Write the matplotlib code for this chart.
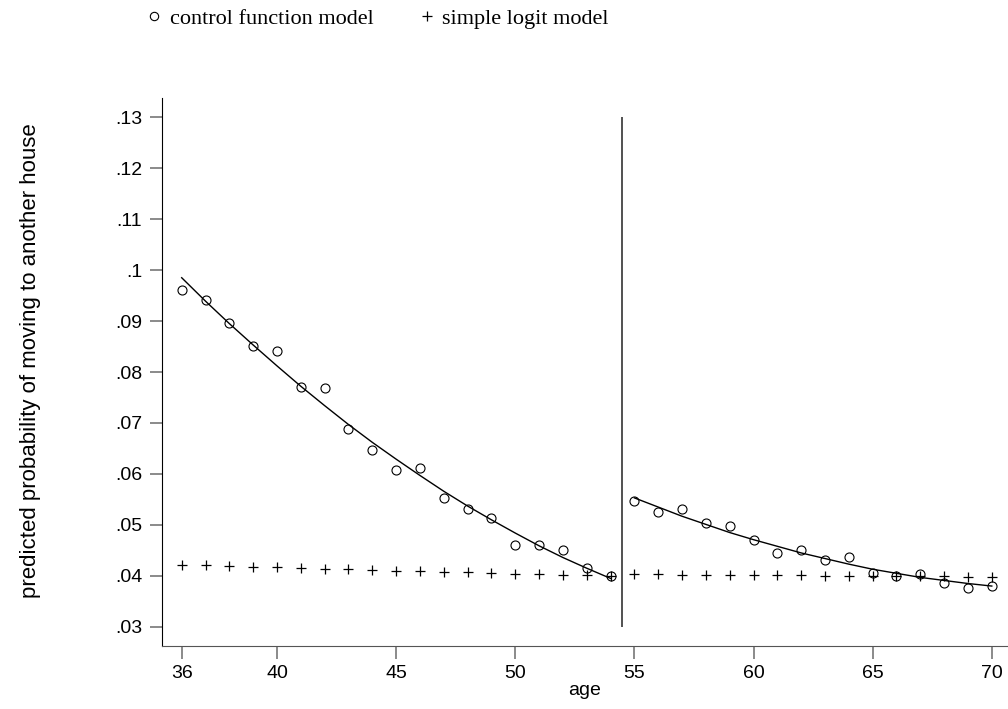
import numpy as np
import matplotlib
matplotlib.use("Agg")
import matplotlib.pyplot as plt
from matplotlib.lines import Line2D

# predicted probabilities, one value per age
ages_left = list(range(36, 55))
ages_right = list(range(55, 71))

cf_left = [.0960, .0941, .0896, .0851, .0841, .0770, .0768, .0688, .0646, .0607,
           .0611, .0553, .0532, .0513, .0461, .0461, .0451, .0415, .0400]
cf_right = [.0547, .0526, .0532, .0503, .0498, .0470, .0444, .0451, .0432, .0438,
            .0405, .0399, .0403, .0386, .0377, .0381]

logit_left = [.0422, .0421, .0419, .0418, .0417, .0416, .0414, .0413, .0412, .0410,
              .0409, .0408, .0407, .0405, .0404, .0403, .0402, .0401, .0400]
logit_right = [.0403, .0403, .0402, .0402, .0402, .0401, .0401, .0401, .0400, .0400,
               .0400, .0399, .0399, .0399, .0398, .0398]

# quadratic fit lines of the control function model
fit_left = [.0985, .0939, .0895, .0853, .0812, .0772, .0734, .0697, .0662, .0629,
            .0597, .0566, .0537, .0510, .0484, .0459, .0436, .0415, .0395]
fit_right = [.0553, .0535, .0517, .0501, .0485, .0471, .0458, .0445, .0434, .0423,
             .0413, .0405, .0397, .0391, .0385, .0380]

break_age = 54.5
yticks = [.03, .04, .05, .06, .07, .08, .09, .1, .11, .12, .13]
ytick_labels = [".03", ".04", ".05", ".06", ".07", ".08", ".09", ".1", ".11", ".12", ".13"]
xticks = [36, 40, 45, 50, 55, 60, 65, 70]

sans = ["Liberation Sans", "DejaVu Sans"]
serif = ["Liberation Serif", "DejaVu Serif"]

fig = plt.figure(figsize=(10.08, 7.09), dpi=100)
ax = fig.add_axes([0.1604, 0.0893, 0.8396, 0.772])

mk = dict(linestyle="none", color="black")
ax.plot(ages_left, cf_left, marker="o", markersize=6.5, markerfacecolor="none",
        markeredgewidth=0.8, **mk)
ax.plot(ages_right, cf_right, marker="o", markersize=6.5, markerfacecolor="none",
        markeredgewidth=0.8, **mk)
ax.plot(ages_left, logit_left, marker="+", markersize=7, markeredgewidth=0.9, **mk)
ax.plot(ages_right, logit_right, marker="+", markersize=7, markeredgewidth=0.9, **mk)

ax.plot(ages_left, fit_left, color="black", lw=1)
ax.plot(ages_right, fit_right, color="black", lw=1)
ax.vlines(break_age, .03, .13, color="#333333", lw=1.2)

ax.set_xlim(35.16, 70.68)
ax.set_ylim(.0263, .1337)
ax.set_xticks(xticks)
ax.set_xticklabels([str(x) for x in xticks], family=sans, fontsize=14)
ax.set_yticks(yticks)
ax.set_yticklabels(ytick_labels, family=sans, fontsize=14)
ax.tick_params(length=9, width=1.2, color="#777777", pad=5)

for s in ["top", "right"]:
    ax.spines[s].set_visible(False)
ax.spines["left"].set_color("black")
ax.spines["bottom"].set_color("#555555")

ax.set_xlabel("age", family=sans, fontsize=14, labelpad=0)
ax.set_ylabel("predicted probability of moving to another house", family=sans,
              fontsize=16)
ax.yaxis.set_label_coords(-0.143, 0.52)

handles = [Line2D([], [], marker="o", markersize=6, markerfacecolor="none",
                  markeredgewidth=0.8, **mk),
           Line2D([], [], marker="+", markersize=7, markeredgewidth=0.9, **mk)]
fig.legend(handles, ["control function model", "simple logit model"], ncol=2,
           loc="upper left", bbox_to_anchor=(0.1265, 1.016), frameon=False,
           prop=dict(family=serif, size=16), handlelength=0.6, handletextpad=0.4,
           columnspacing=2.1, borderpad=0.4)

fig.savefig("out.png", dpi=100)
